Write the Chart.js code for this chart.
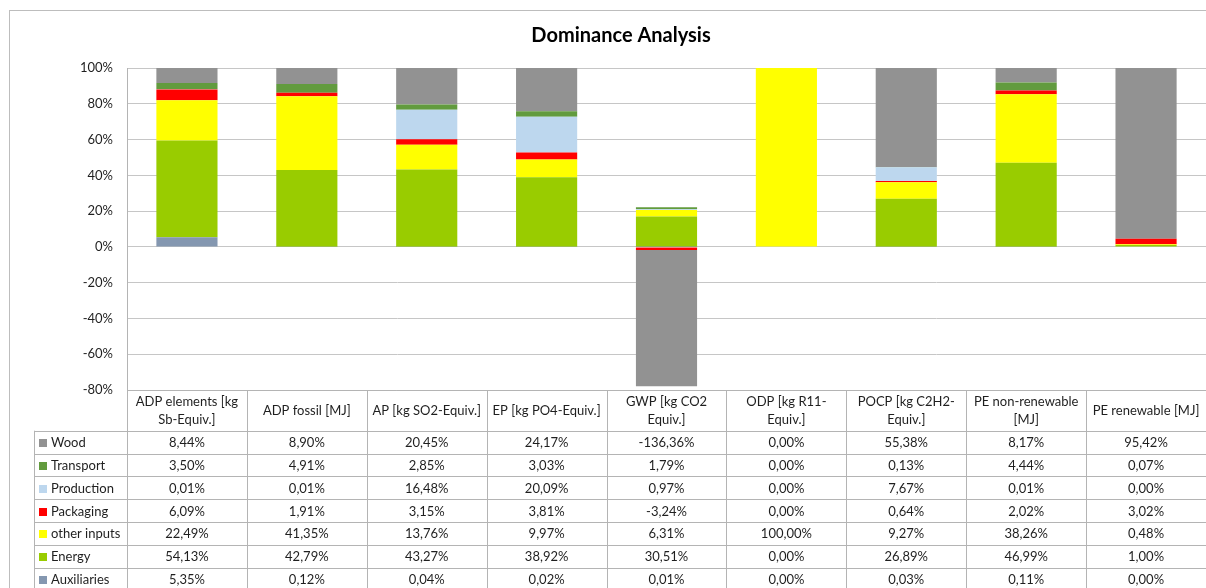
<!DOCTYPE html>
<html>
<head>
<meta charset="utf-8">
<script src="https://cdn.jsdelivr.net/npm/chart.js@4.4.1/dist/chart.umd.min.js"></script>
<style>
  html, body { margin: 0; padding: 0; background: #fff; overflow: hidden; }
</style>
</head>
<body>
<canvas id="dominance" width="1206" height="588"></canvas>
<script>
// impact categories (header cells of the data table, already split into lines)
const categories = [
  ["ADP elements [kg", "Sb-Equiv.]"],
  ["ADP fossil [MJ]"],
  ["AP [kg SO2-Equiv.]"],
  ["EP [kg PO4-Equiv.]"],
  ["GWP [kg CO2", "Equiv.]"],
  ["ODP [kg R11-", "Equiv.]"],
  ["POCP [kg C2H2-", "Equiv.]"],
  ["PE non-renewable", "[MJ]"],
  ["PE renewable [MJ]"]
];

// contributions in % (as printed in the table)
const wood        = [8.44, 8.90, 20.45, 24.17, -136.36, 0.00, 55.38, 8.17, 95.42];
const transport   = [3.50, 4.91, 2.85, 3.03, 1.79, 0.00, 0.13, 4.44, 0.07];
const production  = [0.01, 0.01, 16.48, 20.09, 0.97, 0.00, 7.67, 0.01, 0.00];
const packaging   = [6.09, 1.91, 3.15, 3.81, -3.24, 0.00, 0.64, 2.02, 3.02];
const otherInputs = [22.49, 41.35, 13.76, 9.97, 6.31, 100.00, 9.27, 38.26, 0.48];
const energy      = [54.13, 42.79, 43.27, 38.92, 30.51, 0.00, 26.89, 46.99, 1.00];
const auxiliaries = [5.35, 0.12, 0.04, 0.02, 0.01, 0.00, 0.03, 0.11, 0.00];

const yMin = -80, yMax = 100, yStep = 20;

// stacking order, bottom to top
const series = [
  { label: "Auxiliaries",  data: auxiliaries, color: "#8497b0" },
  { label: "Energy",       data: energy,      color: "#99cc00" },
  { label: "other inputs", data: otherInputs, color: "#ffff00" },
  { label: "Packaging",    data: packaging,   color: "#ff0000" },
  { label: "Production",   data: production,  color: "#bdd7ee" },
  { label: "Transport",    data: transport,   color: "#629b3e" },
  { label: "Wood",         data: wood,        color: "#929292" }
];

// the bars show each share of the column's absolute total
const absTotal = categories.map((c, i) =>
  series.reduce((s, d) => s + Math.abs(d.data[i]), 0));
const share = arr => arr.map((v, i) => v / absTotal[i] * 100);

const fmt = v => v.toFixed(2).replace(".", ",") + "%";

const FONT = "Lato, 'Open Sans', sans-serif";
const TEXT = "#1f1f1f";
const LINE = "#b4b4b4";

const frameAndTitle = {
  id: "frameAndTitle",
  beforeDraw(chart) {
    const ctx = chart.ctx;
    ctx.save();
    ctx.fillStyle = "#fff";
    ctx.fillRect(0, 0, chart.width, chart.height);
    ctx.strokeStyle = "#bdbdbd";
    ctx.lineWidth = 1;
    ctx.strokeRect(9.5, 10.5, chart.width + 20, chart.height + 20);
    ctx.restore();
  },
  afterDraw(chart) {
    const ctx = chart.ctx;
    ctx.save();
    ctx.fillStyle = "#000";
    ctx.font = "bold 20px " + FONT;
    ctx.textAlign = "center";
    ctx.textBaseline = "middle";
    ctx.fillText("Dominance Analysis", 621, 36);
    ctx.restore();
  }
};

// data table under the plot, aligned to the x scale
const dataTable = {
  id: "dataTable",
  afterDraw(chart) {
    const ctx = chart.ctx;
    const a = chart.chartArea;
    const x = chart.scales.x;
    const colW = x.width / categories.length;
    const top = a.bottom;
    const headH = 40.7, rowH = 22.8;
    const rows = series.slice().reverse();
    const bottom = chart.height;
    const legLeft = 34;
    const px = v => Math.round(v) + 0.5;

    ctx.save();
    ctx.strokeStyle = LINE;
    ctx.lineWidth = 1;
    ctx.beginPath();
    ctx.moveTo(a.left, px(top)); ctx.lineTo(a.right, px(top));
    for (let r = 0; r <= rows.length; r++) {
      const y = px(top + headH + r * rowH);
      ctx.moveTo(legLeft, y); ctx.lineTo(a.right, y);
    }
    ctx.moveTo(px(legLeft), top + headH); ctx.lineTo(px(legLeft), bottom);
    for (let i = 0; i <= categories.length; i++) {
      const xx = px(x.getPixelForValue(i) - colW / 2);
      ctx.moveTo(xx, top); ctx.lineTo(xx, bottom);
    }
    ctx.stroke();

    ctx.fillStyle = TEXT;
    ctx.font = "13px " + FONT;
    ctx.textAlign = "center";
    ctx.textBaseline = "middle";
    categories.forEach((lines, i) => {
      const cx = x.getPixelForValue(i);
      lines.forEach((t, k) => {
        ctx.fillText(t, cx, top + headH / 2 + (k - (lines.length - 1) / 2) * 18);
      });
    });

    rows.forEach((s, r) => {
      const cy = top + headH + r * rowH + rowH / 2;
      ctx.fillStyle = s.color;
      ctx.fillRect(39, Math.round(cy - 3), 8, 8);
      ctx.fillStyle = TEXT;
      ctx.textAlign = "left";
      ctx.fillText(s.label, 51, cy + 1);
      ctx.textAlign = "center";
      s.data.forEach((v, i) => ctx.fillText(fmt(v), x.getPixelForValue(i), cy + 1));
    });
    ctx.restore();
  }
};

Chart.defaults.font.family = FONT;
Chart.defaults.font.size = 13;
Chart.defaults.color = TEXT;

new Chart(document.getElementById("dominance"), {
  type: "bar",
  data: {
    labels: categories.map(c => c.join(" ")),
    datasets: series.map(s => ({
      label: s.label,
      data: share(s.data),
      backgroundColor: s.color,
      borderWidth: 0,
      categoryPercentage: 1,
      barPercentage: 0.51
    }))
  },
  options: {
    responsive: false,
    animation: false,
    devicePixelRatio: 1,
    layout: { padding: { top: 68, bottom: 198, left: 0, right: 0 } },
    plugins: {
      legend: { display: false },
      title: { display: false },
      tooltip: { enabled: false }
    },
    scales: {
      x: {
        stacked: true,
        display: false
      },
      y: {
        stacked: true,
        min: yMin,
        max: yMax,
        ticks: {
          stepSize: yStep,
          padding: 14,
          callback: v => v + "%"
        },
        grid: { color: "#c6c6c6", drawTicks: false },
        border: { display: true, color: LINE },
        afterFit(scale) { scale.width = 127; }
      }
    }
  },
  plugins: [frameAndTitle, dataTable]
});
</script>
</body>
</html>
